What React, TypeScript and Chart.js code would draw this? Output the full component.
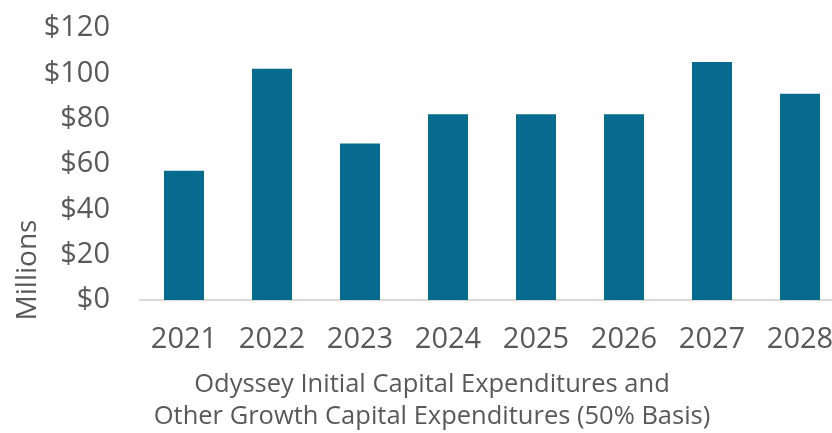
import React, { useEffect, useRef } from "react";
import { Chart, registerables } from "chart.js";

Chart.register(...registerables);

const categories = ["2021", "2022", "2023", "2024", "2025", "2026", "2027", "2028"];
const capex = [57, 102, 69, 82, 82, 82, 105, 91];
const yTicks = [0, 20, 40, 60, 80, 100, 120];
const titleLines = [
  "Odyssey Initial Capital Expenditures and",
  "Other Growth Capital Expenditures (50% Basis)",
];
const yTitle = "Millions";

const FONT = "'Open Sans', 'Noto Sans', sans-serif";
const TEXT = "#595959";

const yTitlePlugin = {
  id: "yTitlePlugin",
  afterDraw(chart: any) {
    const ctx = chart.ctx;
    ctx.save();
    ctx.translate(28, 270);
    ctx.rotate(-Math.PI / 2);
    ctx.font = `28px ${FONT}`;
    ctx.fillStyle = TEXT;
    ctx.textAlign = "center";
    ctx.textBaseline = "middle";
    ctx.fillText(yTitle, 0, 0);
    ctx.restore();
  },
};

export default function App() {
  const ref = useRef<HTMLCanvasElement | null>(null);
  useEffect(() => {
    if (!ref.current) return;
    const chart = new Chart(ref.current, {
      type: "bar",
      data: {
        labels: categories,
        datasets: [
          {
            data: capex,
            backgroundColor: "#066B8F",
            barPercentage: 0.4545,
            categoryPercentage: 1,
          },
        ],
      },
      plugins: [yTitlePlugin],
      options: {
        responsive: false,
        animation: false,
        layout: { padding: { left: 20, right: 6, top: 28, bottom: 0 } },
        plugins: {
          legend: { display: false },
          tooltip: { enabled: false },
          title: {
            display: true,
            position: "bottom",
            text: titleLines,
            color: TEXT,
            font: { family: FONT, size: 25.5, lineHeight: 1.255, weight: "normal" },
            padding: { top: 0, bottom: 0 },
          },
        },
        scales: {
          x: {
            grid: { display: false },
            border: { display: true, color: "#D9D9D9", width: 2 },
            ticks: {
              color: TEXT,
              font: { family: FONT, size: 29 },
              padding: 14,
              maxRotation: 0,
              autoSkip: false,
            },
            afterFit(scale: any) {
              scale.height = 69;
            },
          },
          y: {
            min: 0,
            max: 120,
            grid: { display: false, drawTicks: true, tickLength: 30 },
            border: { display: false },
            afterBuildTicks(scale: any) {
              scale.ticks = yTicks.map((v) => ({ value: v }));
            },
            ticks: {
              color: TEXT,
              font: { family: FONT, size: 29 },
              padding: 0,
              callback: (v: any) => "$" + v,
            },
            afterFit(scale: any) {
              scale.width = 120;
            },
          },
        },
      },
    });
    return () => chart.destroy();
  }, []);
  return (
    <div
      style={{
        position: "fixed",
        left: 0,
        top: 0,
        width: 832,
        height: 433,
        overflow: "hidden",
        background: "#fff",
      }}
    >
      <canvas ref={ref} width={850} height={433} style={{ display: "block" }} />
    </div>
  );
}
